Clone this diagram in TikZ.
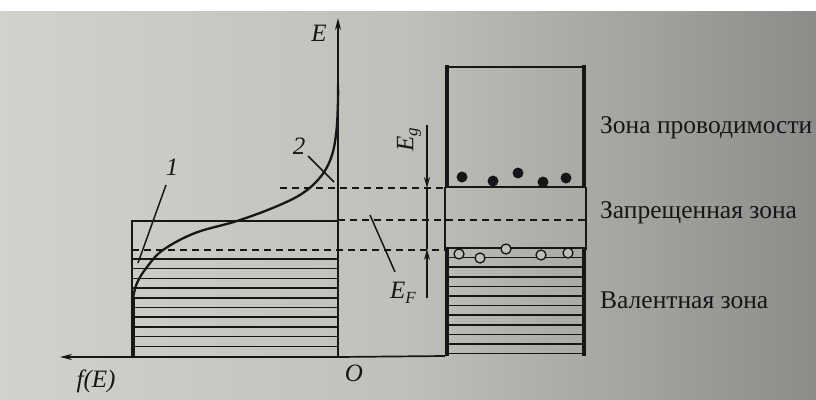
\documentclass[tikz,border=0pt]{standalone}
\usepackage{fontspec}
\setmainfont{Liberation Serif}
\usetikzlibrary{arrows.meta}
\definecolor{paperL}{RGB}{210,210,204}
\definecolor{paperM}{RGB}{192,192,186}
\definecolor{paperR}{RGB}{140,140,138}
\definecolor{ink}{RGB}{22,22,22}
\tikzset{
  thinln/.style={ink, line width=1.5pt},
  dashln/.style={ink, line width=1.3pt, dash pattern=on 7pt off 5pt},
  thickside/.style={ink, line width=4.5pt},
  axisln/.style={ink, line width=1.7pt, -{Stealth[length=12pt,width=6pt]}},
  lbl/.style={ink, font=\fontsize{25}{29}\selectfont\itshape, inner sep=0pt},
  zone/.style={ink, font=\fontsize{25.5}{30}\selectfont, anchor=west, inner sep=0pt},
  electron/.style={ink, fill=ink},
  hole/.style={ink, line width=1.3pt, fill=paperM},
}
\begin{document}
\begin{tikzpicture}[x=1pt,y=-1pt]
\useasboundingbox (0,0) rectangle (816,399);
\fill[white] (0,0) rectangle (816,399);
\shade[left color=paperL, right color=paperR, middle color=paperM] (0,11) rectangle (816,399);

% left box with occupied levels
\draw[thinln] (132,356) -- (132,221) -- (338,221);
\foreach \k in {0,...,9}{
  \draw[thinln] (132,{259+9.7*\k}) -- (338,{259+9.7*\k});
}
\draw[ink, line width=3pt] (133,298) -- (133,357);

% dashed levels
\draw[dashln] (132,250) -- (445,250);
\draw[dashln] (338,220) -- (586,220);
\draw[dashln] (280,188) -- (445,188);

% Fermi function curve
\draw[ink, line width=2.3pt, line cap=round] plot[smooth, tension=0.6] coordinates {
  (133,298) (137,283) (147,267) (163,250) (195,233) (237,221) (275,207) (303,193) (322,175) (332,155) (336.5,130) (338,100) (338,85)};

% axes
\coordinate (orig) at (338,357);
\coordinate (etop) at (338,18);
\coordinate (fend) at (60,357);
\draw[axisln] (orig) -- (etop);
\draw[ink, line width=1.7pt] (orig) -- (445,356);
\draw[axisln] (orig) -- (fend);
\node[lbl] (Elab) at (319,33) {E};
\node[lbl] (flab) at (96,381) {f(E)};
\node[lbl] (Olab) at (354,373) {O};

% conduction band
\draw[ink, line width=2pt] (445,67) -- (586,67);
\draw[thickside] (447,65) -- (447,188);
\draw[thickside] (584,65) -- (584,188);
\draw[ink, line width=1.7pt] (445,187) -- (586,187);
% forbidden gap walls
\draw[thinln] (445,187) -- (445,250);
\draw[thinln] (586,187) -- (586,250);
% valence band
\draw[thickside] (447,248) -- (447,356);
\draw[thickside] (584,248) -- (584,356);
\foreach \k in {0,...,11}{
  \draw[thinln] (445,{248+9.6*\k}) -- (586,{248+9.6*\k});
}

% electrons
\foreach \px/\py [count=\i] in {462/177, 493/181, 518/173, 543/182, 566/178}{
  \fill[electron] (\px,\py) circle (5.5pt);
}
% holes
\foreach \px/\py [count=\i] in {459/254, 480/258, 506/249, 541/255, 568/253}{
  \draw[hole] (\px,\py) circle (5pt);
}

% E_g arrows
\coordinate (egtop) at (427,125);
\coordinate (ecb) at (427,188);
\coordinate (evb) at (427,249);
\coordinate (egbot) at (427,298);
\draw[ink, line width=1.4pt, -{Stealth[length=11pt,width=6pt]}] (egtop) -- (ecb);
\draw[ink, line width=1.4pt, -{Stealth[length=11pt,width=6pt]}] (egbot) -- (evb);
\draw[thinln] (ecb) -- (evb);
\node[lbl, rotate=90] (Eglab) at (409,140) {E\raisebox{-0.35ex}{\fontsize{17}{19}\selectfont g}};
\node[lbl] (EFlab) at (403,293) {E\raisebox{-0.45ex}{\fontsize{17}{19}\selectfont F}};

% curve labels and leaders
\node[lbl] (one) at (172,167) {1};
\node[lbl] (two) at (299,146) {2};
\coordinate (oneA) at (166,185);
\coordinate (oneB) at (138,263);
\coordinate (twoA) at (308,156);
\coordinate (twoB) at (334,182);
\coordinate (efA) at (370,215);
\coordinate (efB) at (395,272);
\draw[thinln] (oneA) -- (oneB);
\draw[thinln] (twoA) -- (twoB);
\draw[thinln] (efA) -- (efB);

% zone names
\node[zone] (cz) at (600,128) {Зона проводимости};
\node[zone] (gz) at (600,213) {Запрещенная зона};
\node[zone] (vz) at (600,300) {Валентная зона};
\end{tikzpicture}
\end{document}
